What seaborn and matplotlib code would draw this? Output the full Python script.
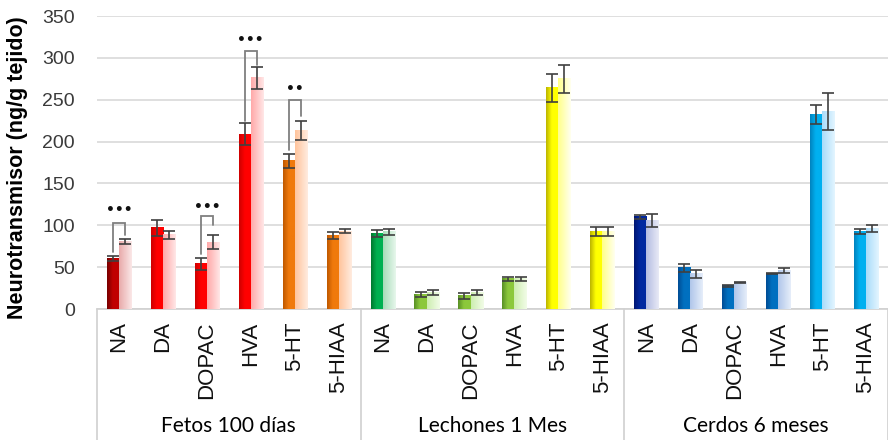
import numpy as np
import pandas as pd
import matplotlib
matplotlib.use("Agg")
import matplotlib.pyplot as plt
import matplotlib.colors as mcolors
import matplotlib.transforms as mtransforms
from matplotlib.lines import Line2D
import seaborn as sns

# ---- data -------------------------------------------------------------
grupos = ["Fetos 100 días", "Lechones 1 Mes", "Cerdos 6 meses"]
neuro = ["NA", "DA", "DOPAC", "HVA", "5-HT", "5-HIAA"]

# first bar of every pair (dark) and second bar (light), ng/g tissue
serie_a = [60, 97, 54, 209, 177, 88,
           90, 17, 16, 36, 264, 93,
           110, 49, 27.5, 42, 232, 93]
error_a = [3, 9.5, 7.5, 13, 8, 4,
           4.5, 3, 3.5, 2.6, 16.5, 5.4,
           2.6, 4.8, 0.7, 0.7, 11.5, 3]
serie_b = [81, 88.5, 80, 276, 213, 93,
           92, 19.5, 19.5, 36, 275, 93,
           105.5, 42, 31.5, 45.5, 236, 96]
error_b = [3.2, 4.6, 8, 13, 11, 2.8,
           4, 3, 3, 2.6, 17, 5.4,
           7.4, 4.4, 0.7, 3, 22, 4.6]

# significance brackets (category index, top, left foot, right foot, label y, mark)
corchete_idx = [0, 2, 3, 4]
corchete_top = [103, 111, 308, 250]
corchete_izq = [68, 66, 224, 190]
corchete_der = [88, 100, 291, 230]
corchete_txt_y = [118, 122, 321, 263]
corchete_txt = ["•••", "•••", "•••", "••"]

# colour families: (dark left edge, dark body, light left, light right)
paletas = {
    "granate":  ("#760000", "#c00000", "#e8aaaa", "#fbe8e8"),
    "rojo":     ("#cc0000", "#ff0000", "#ffa8a8", "#ffe8e8"),
    "naranja":  ("#bf5800", "#f07a0c", "#ffc49c", "#ffece0"),
    "verde":    ("#00782e", "#00b050", "#a8dcb8", "#e8f7ec"),
    "oliva":    ("#588f26", "#8cc83c", "#cdeeb0", "#f2fce8"),
    "amarillo": ("#bbb300", "#ffff00", "#ffff88", "#fffff0"),
    "marino":   ("#001672", "#0028a0", "#b4bce2", "#e8eaf6"),
    "azul":     ("#004c94", "#0070c0", "#b0c6ea", "#e6eefa"),
    "celeste":  ("#0082be", "#00b0f0", "#a8dcfa", "#e4f5ff"),
}
familia = ["granate", "rojo", "rojo", "rojo", "naranja", "naranja",
           "verde", "oliva", "oliva", "oliva", "amarillo", "amarillo",
           "marino", "azul", "azul", "azul", "celeste", "celeste"]

claves = [f"{g} | {n}" for g in grupos for n in neuro]
df = pd.DataFrame({
    "categoria": claves * 2,
    "serie": ["a"] * len(claves) + ["b"] * len(claves),
    "valor": serie_a + serie_b,
})

# ---- figure -----------------------------------------------------------
sns.set_theme(style="white")
plt.rcParams["font.family"] = ["Liberation Sans", "DejaVu Sans"]

W, H = 888, 440
fig = plt.figure(figsize=(W / 100, H / 100), dpi=100)
ax = fig.add_axes([97 / W, 1 - 309 / H, 1 - 97 / W, 293 / H])

sns.barplot(data=df, x="categoria", y="valor", hue="serie", order=claves,
            hue_order=["a", "b"], width=0.55, errorbar=None, legend=False,
            ax=ax, zorder=3)


def gradiente(stops, n=80):
    pos = np.linspace(0, 1, n)
    xs = [s[0] for s in stops]
    cols = np.array([mcolors.to_rgb(s[1]) for s in stops])
    rgb = np.stack([np.interp(pos, xs, cols[:, k]) for k in range(3)], axis=-1)
    return rgb[np.newaxis, :, :]


# gradient fills for every bar
centros = {"a": [], "b": []}
for serie, cont in zip(["a", "b"], ax.containers):
    for i, p in enumerate(cont.patches):
        x0, w, h = p.get_x(), p.get_width(), p.get_height()
        d_left, d_body, l_left, l_right = paletas[familia[i]]
        if serie == "a":
            stops = [(0, d_left), (0.45, d_body), (1, d_body)]
        else:
            stops = [(0, l_left), (1, l_right)]
        p.set_facecolor("none")
        p.set_edgecolor("none")
        ax.imshow(gradiente(stops), extent=[x0, x0 + w, 0, h], aspect="auto",
                  interpolation="bilinear", zorder=3)
        centros[serie].append(x0 + w / 2)

# error bars
for serie, vals, errs in [("a", serie_a, error_a), ("b", serie_b, error_b)]:
    ax.errorbar(centros[serie], vals, yerr=errs, fmt="none", ecolor="#404040",
                elinewidth=1.2, capsize=4.3, capthick=1.2, zorder=4)

# significance brackets
for idx, top, yl, yr, ty, txt in zip(corchete_idx, corchete_top, corchete_izq,
                                     corchete_der, corchete_txt_y, corchete_txt):
    xl, xr = centros["a"][idx], centros["b"][idx]
    ax.plot([xl, xl, xr, xr], [yl, top, top, yr], color="#7f7f7f", lw=1.3,
            zorder=5, solid_joinstyle="miter")
    ax.text((xl + xr) / 2, ty, txt, ha="center", va="center", fontsize=10,
            color="#111111", fontweight="bold", family=["DejaVu Sans"])

# axes styling
ax.set_xlim(-0.5, len(claves) - 0.5)
ax.set_ylim(0, 350)
ax.set_yticks(np.arange(0, 351, 50))
ax.yaxis.grid(True, color="#d9d9d9", lw=1.2)
ax.set_axisbelow(True)
for s in ["left", "right", "top"]:
    ax.spines[s].set_visible(False)
ax.spines["bottom"].set_color("#d0d0d0")
ax.spines["bottom"].set_linewidth(1.2)
ax.tick_params(axis="y", length=0, pad=16, labelsize=14, labelcolor="#3a3a3a")
ax.tick_params(axis="x", length=0, pad=9)
ax.set_xticks(range(len(claves)))
ax.set_xticklabels(neuro * len(grupos), rotation=90, va="top", ha="center",
                   fontsize=16, color="#111111",
                   family=["Liberation Sans Narrow", "Liberation Sans", "DejaVu Sans"])
ax.set_xlabel("")
ax.set_ylabel("Neurotransmisor (ng/g tejido)", fontsize=15.5, fontweight="bold",
              color="#000000", va="center")
ax.yaxis.set_label_coords((18 - 97) / 791, (309 - 167.5) / 293)

# category box below the axis
tr = mtransforms.blended_transform_factory(ax.transData, fig.transFigure)
for xs in [-0.5, 5.5, 11.5, 17.5]:
    fig.add_artist(Line2D([xs, xs], [0, 1 - 309 / H], transform=tr,
                          color="#d0d0d0", lw=1.2, clip_on=False))

# group names under each block of six categories
for k, g in enumerate(grupos):
    ax.text(6 * k + 2.5, 1 - 426 / H, g, transform=tr, ha="center", va="center",
            fontsize=15, color="#000000", family=["Lato", "DejaVu Sans"])

fig.savefig("out.png", dpi=100, facecolor="white")
